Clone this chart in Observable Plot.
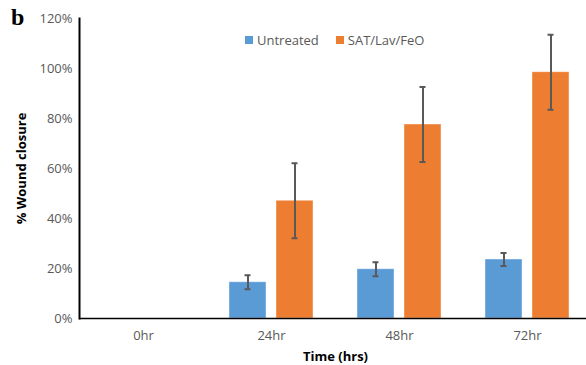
<!DOCTYPE html>
<html>
<head>
<meta charset="utf-8">
<script src="https://cdn.jsdelivr.net/npm/d3@7"></script>
<script src="https://cdn.jsdelivr.net/npm/@observablehq/plot@0.6"></script>
<style>
  html, body { margin: 0; padding: 0; background: #fff; }
  #wrap { position: relative; width: 586px; height: 365px; overflow: hidden; font-family: "Open Sans", "Noto Sans", sans-serif; }
  #panel { position: absolute; left: 11px; top: 4px; font-family: "Liberation Serif", serif; font-weight: bold; font-size: 24px; color: #000; }
  #legend { position: absolute; left: 245px; top: 31px; display: flex; gap: 17px; font-size: 13px; color: #595959; }
  #legend .item { display: flex; align-items: center; gap: 4px; }
  #legend .sw { width: 8px; height: 8px; display: inline-block; }
</style>
</head>
<body>
<div id="wrap">
  <div id="chart"></div>
  <div id="panel">b</div>
  <div id="legend"></div>
</div>
<script>
const times = ["0hr", "24hr", "48hr", "72hr"];
const series = ["Untreated", "SAT/Lav/FeO"];
const untreated = [0, 0.145, 0.197, 0.236];
const untreatedErr = [0, 0.028, 0.028, 0.026];
const treated = [0, 0.471, 0.776, 0.985];
const treatedErr = [0, 0.15, 0.15, 0.15];
const colors = ["#5B9BD5", "#ED7D31"];
const yTicks = [0, 0.2, 0.4, 0.6, 0.8, 1.0, 1.2];

const rows = [];
times.forEach((t, i) => {
  rows.push({time: t, series: series[0], value: untreated[i], err: untreatedErr[i]});
  rows.push({time: t, series: series[1], value: treated[i], err: treatedErr[i]});
});
const errRows = rows.filter(d => d.err > 0);

const chart = Plot.plot({
  width: 586,
  height: 365,
  marginLeft: 79,
  marginRight: -5,
  marginTop: 18,
  marginBottom: 47,
  style: {fontFamily: "'Open Sans', 'Noto Sans', sans-serif", fontSize: "13px", color: "#595959", background: "white"},
  fx: {domain: times, padding: 0, label: "Time (hrs)", labelAnchor: "center", labelArrow: "none", tickSize: 0, tickPadding: 12, labelOffset: 42},
  x: {domain: series, paddingInner: 0.208, paddingOuter: 0.4375, axis: null},
  y: {domain: [0, 1.2], ticks: yTicks, tickFormat: d3.format(".0%"), label: "% Wound closure", labelAnchor: "center", labelArrow: "none", tickSize: 0, tickPadding: 7, labelOffset: 63, line: true},
  color: {domain: series, range: colors},
  marks: [
    Plot.barY(rows, {fx: "time", x: "series", y: "value", fill: "series", stroke: "white", strokeOpacity: 0.5, strokeWidth: 0.8}),
    Plot.ruleX(errRows, {fx: "time", x: "series", y1: d => d.value - d.err, y2: d => d.value + d.err, stroke: "#595959", strokeWidth: 2}),
    Plot.tickY(errRows, {fx: "time", x: "series", y: d => d.value + d.err, stroke: "#595959", strokeWidth: 2, inset: 15.5}),
    Plot.tickY(errRows, {fx: "time", x: "series", y: d => d.value - d.err, stroke: "#595959", strokeWidth: 2, inset: 15.5}),
    Plot.ruleY([0], {stroke: "#000", strokeWidth: 1.5})
  ]
});
document.getElementById("chart").appendChild(chart);

// style axis labels
const svg = d3.select(chart);
svg.selectAll("text").each(function() {
  const t = d3.select(this);
  const s = t.text();
  if (s.includes("Wound closure") || s.includes("Time (hrs)")) {
    t.text(s.replace(/[↑→←↓]/g, "").trim());
    t.style("font-weight", "bold").attr("fill", "#000").style("fill", "#000");
  }
});
svg.selectAll('g[aria-label="frame"]').attr("stroke", "#000").attr("stroke-opacity", 1);
svg.selectAll('g[aria-label="frame"] line').attr("stroke", "#000").attr("stroke-width", 2).attr("stroke-opacity", 1);

const legend = d3.select("#legend");
series.forEach((s, i) => {
  const it = legend.append("div").attr("class", "item");
  it.append("span").attr("class", "sw").style("background", colors[i]);
  it.append("span").text(s);
});
</script>
</body>
</html>
